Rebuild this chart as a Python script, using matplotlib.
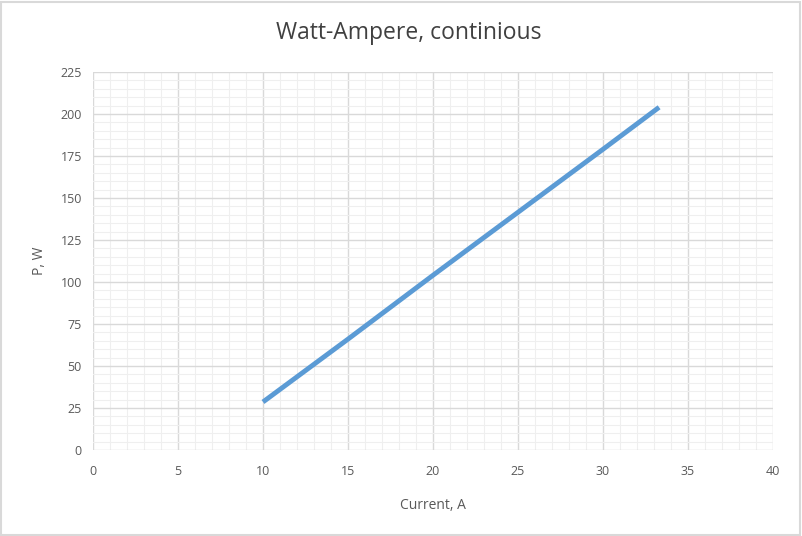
import matplotlib

matplotlib.use("Agg")

import matplotlib.pyplot as plt
from matplotlib.patches import Rectangle
from matplotlib.ticker import MultipleLocator

current = [10, 15, 20, 25, 30, 33.3]
power = [28.6, 66, 104, 141.5, 179, 204]

plt.rcParams["font.family"] = ["Open Sans", "DejaVu Sans"]

fig = plt.figure(figsize=(8.02, 5.36), dpi=100)
ax = fig.add_axes([93 / 802, 86 / 536, 680 / 802, 378 / 536])

ax.plot(current, power, color="#5b9bd5", linewidth=3.5, solid_capstyle="butt", zorder=3)

ax.set_xlim(0, 40)
ax.set_ylim(0, 225)
ax.xaxis.set_major_locator(MultipleLocator(5))
ax.xaxis.set_minor_locator(MultipleLocator(1))
ax.yaxis.set_major_locator(MultipleLocator(25))
ax.yaxis.set_minor_locator(MultipleLocator(5))
ax.grid(which="major", color="#d9d9d9", linewidth=1.0)
ax.grid(which="minor", color="#efefef", linewidth=0.8)
ax.set_axisbelow(True)
for s in ax.spines.values():
    s.set_visible(False)
ax.tick_params(which="both", length=0, labelsize=9, colors="#595959")
ax.tick_params(axis="x", pad=11)
ax.tick_params(axis="y", pad=8)

fig.text(409 / 802, 1 - 33 / 536, "Watt-Ampere, continious", fontsize=16.5,
         color="#404040", ha="center", va="center")
ax.set_xlabel("Current, A", fontsize=10, color="#595959", labelpad=14)
ax.set_ylabel("P, W", fontsize=10, color="#595959", labelpad=10)

fig.patches.append(Rectangle((0.001, 0.002), 0.997, 0.995, transform=fig.transFigure,
                             fill=False, edgecolor="#d9d9d9", linewidth=1.5))

fig.savefig("out.png", dpi=100)
plt.close(fig)
